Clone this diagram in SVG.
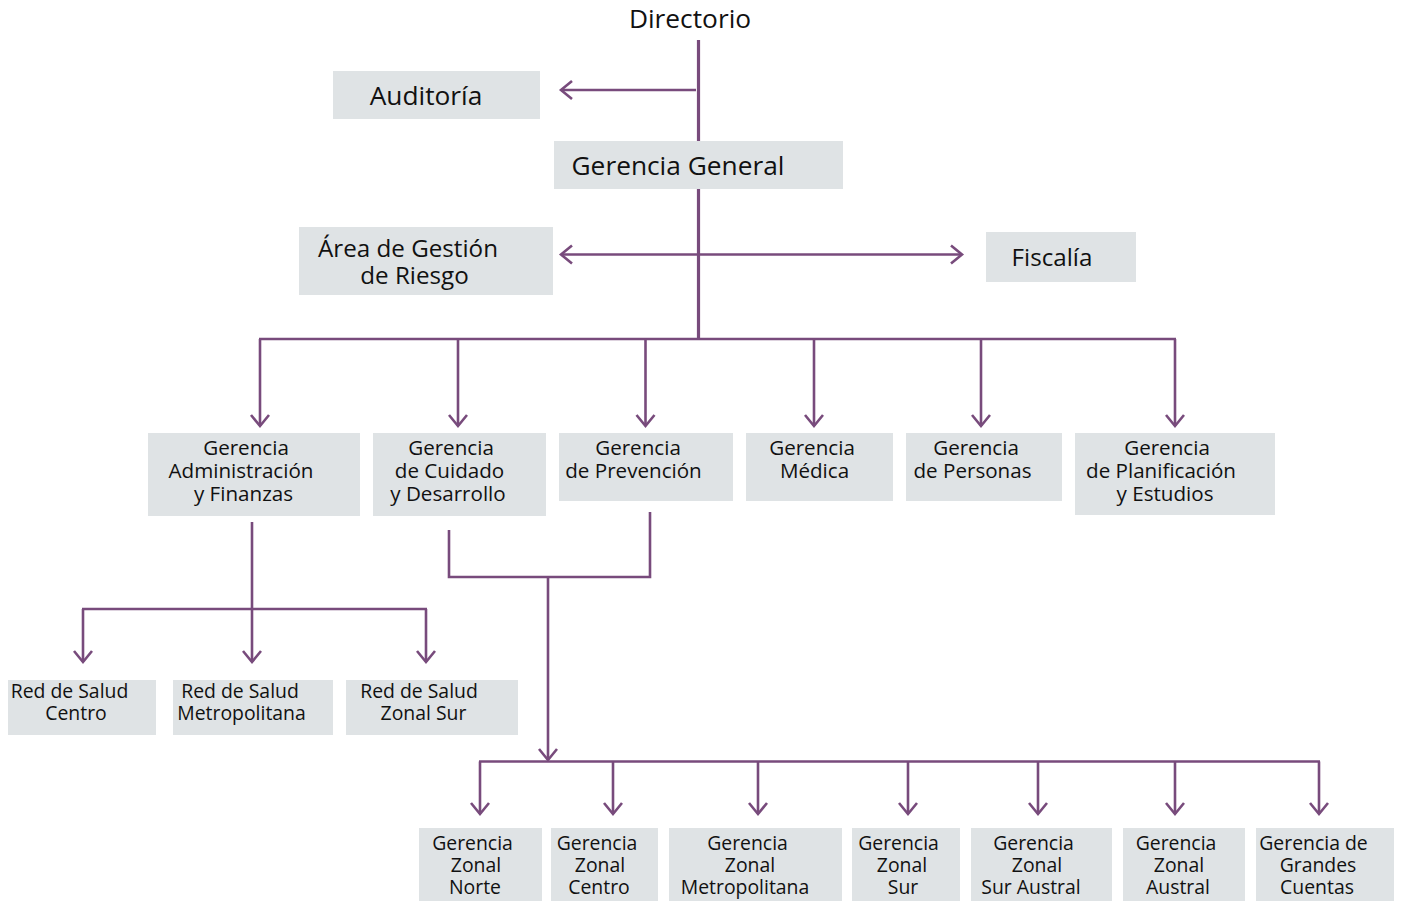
<svg xmlns="http://www.w3.org/2000/svg" width="1401" height="901" viewBox="0 0 1401 901">
<defs>
<style>
.box{fill:#dfe3e5}
.t{font-family:"Open Sans","Noto Sans","Liberation Sans",sans-serif;fill:#111111;text-anchor:middle}
.t26{font-size:26.3px}
.t24{font-size:24.2px}
.t20{font-size:20.6px}
.t19{font-size:19.4px}
.ln{fill:none;stroke:#784b7c;stroke-width:2.6}
.main{fill:none;stroke:#784b7c;stroke-width:3.2}
.ar{marker-end:url(#chev)}
</style>
<marker id="chev" markerUnits="userSpaceOnUse" viewBox="-13 -11 16 22" refX="0" refY="0" markerWidth="16" markerHeight="22" orient="auto-start-reverse">
<path d="M -11 -9 L 0 0 L -11 9" fill="none" stroke="#784b7c" stroke-width="2.6"/>
</marker>
</defs>

<g id="connectors">
<line class="main" x1="698.5" y1="40" x2="698.5" y2="141"/>
<line class="main" x1="698.5" y1="189" x2="698.5" y2="339"/>
<line class="ln ar" x1="696" y1="90" x2="561" y2="90"/>
<line class="ln ar" x1="561" y1="254.5" x2="962" y2="254.5" style="marker-start:url(#chev)"/>
<line class="ln" x1="259" y1="339" x2="1176" y2="339"/>
<line class="ln ar" x1="260" y1="339" x2="260" y2="426"/>
<line class="ln ar" x1="458" y1="339" x2="458" y2="426"/>
<line class="ln ar" x1="645.5" y1="339" x2="645.5" y2="426"/>
<line class="ln ar" x1="814" y1="339" x2="814" y2="426"/>
<line class="ln ar" x1="981" y1="339" x2="981" y2="426"/>
<line class="ln ar" x1="1175" y1="339" x2="1175" y2="426"/>
<line class="ln" x1="252" y1="522" x2="252" y2="609"/>
<line class="ln" x1="82" y1="609" x2="427" y2="609"/>
<line class="ln ar" x1="83" y1="609" x2="83" y2="662"/>
<line class="ln ar" x1="252" y1="609" x2="252" y2="662"/>
<line class="ln ar" x1="426" y1="609" x2="426" y2="662"/>
<polyline class="ln" points="449,530 449,577 650,577 650,512"/>
<line class="ln ar" x1="548" y1="577" x2="548" y2="760"/>
<line class="ln" x1="479" y1="761.5" x2="1320" y2="761.5"/>
<line class="ln ar" x1="480" y1="761.5" x2="480" y2="814"/>
<line class="ln ar" x1="613" y1="761.5" x2="613" y2="814"/>
<line class="ln ar" x1="758" y1="761.5" x2="758" y2="814"/>
<line class="ln ar" x1="908" y1="761.5" x2="908" y2="814"/>
<line class="ln ar" x1="1038" y1="761.5" x2="1038" y2="814"/>
<line class="ln ar" x1="1175" y1="761.5" x2="1175" y2="814"/>
<line class="ln ar" x1="1319" y1="761.5" x2="1319" y2="814"/>
</g>

<g id="directorio">
<text class="t t26" x="690" y="28">Directorio</text>
</g>

<g id="auditoria">
<rect class="box" x="333" y="71" width="207" height="48"/>
<text class="t t26" x="426" y="105">Auditoría</text>
</g>

<g id="gerencia-general">
<rect class="box" x="554" y="141" width="289" height="48"/>
<text class="t t26" x="678" y="175">Gerencia General</text>
</g>

<g id="area-riesgo">
<rect class="box" x="299" y="227" width="254" height="68"/>
<text class="t t24" x="408" y="257">Área de Gestión</text>
<text class="t t24" x="414.5" y="284">de Riesgo</text>
</g>

<g id="fiscalia">
<rect class="box" x="986" y="232" width="150" height="50"/>
<text class="t t24" x="1052" y="266">Fiscalía</text>
</g>

<g id="g-admin">
<rect class="box" x="148" y="433" width="212" height="83"/>
<text class="t t20" x="246" y="455">Gerencia</text>
<text class="t t20" x="241" y="478">Administración</text>
<text class="t t20" x="243.5" y="501">y Finanzas</text>
</g>

<g id="g-cuidado">
<rect class="box" x="373" y="433" width="173" height="83"/>
<text class="t t20" x="451" y="455">Gerencia</text>
<text class="t t20" x="449.5" y="478">de Cuidado</text>
<text class="t t20" x="448" y="501">y Desarrollo</text>
</g>

<g id="g-prevencion">
<rect class="box" x="559" y="433" width="174" height="68"/>
<text class="t t20" x="638" y="455">Gerencia</text>
<text class="t t20" x="633.5" y="478">de Prevención</text>
</g>

<g id="g-medica">
<rect class="box" x="746" y="433" width="147" height="68"/>
<text class="t t20" x="812" y="455">Gerencia</text>
<text class="t t20" x="814.5" y="478">Médica</text>
</g>

<g id="g-personas">
<rect class="box" x="906" y="433" width="156" height="68"/>
<text class="t t20" x="976" y="455">Gerencia</text>
<text class="t t20" x="972.5" y="478">de Personas</text>
</g>

<g id="g-planificacion">
<rect class="box" x="1075" y="433" width="200" height="82"/>
<text class="t t20" x="1167" y="455">Gerencia</text>
<text class="t t20" x="1161" y="478">de Planificación</text>
<text class="t t20" x="1165" y="501">y Estudios</text>
</g>

<g id="red-centro">
<rect class="box" x="8" y="680" width="148" height="55"/>
<text class="t t19" x="69.5" y="698">Red de Salud</text>
<text class="t t19" x="76" y="720">Centro</text>
</g>

<g id="red-metropolitana">
<rect class="box" x="173" y="680" width="160" height="55"/>
<text class="t t19" x="240" y="698">Red de Salud</text>
<text class="t t19" x="241.5" y="720">Metropolitana</text>
</g>

<g id="red-zonal-sur">
<rect class="box" x="346" y="680" width="172" height="55"/>
<text class="t t19" x="419" y="698">Red de Salud</text>
<text class="t t19" x="423.5" y="720">Zonal Sur</text>
</g>

<g id="gz-norte">
<rect class="box" x="419" y="828" width="123" height="73"/>
<text class="t t19" x="472.5" y="850">Gerencia</text>
<text class="t t19" x="476" y="872">Zonal</text>
<text class="t t19" x="475" y="894">Norte</text>
</g>

<g id="gz-centro">
<rect class="box" x="551" y="828" width="107" height="73"/>
<text class="t t19" x="597" y="850">Gerencia</text>
<text class="t t19" x="600" y="872">Zonal</text>
<text class="t t19" x="599" y="894">Centro</text>
</g>

<g id="gz-metropolitana">
<rect class="box" x="669" y="828" width="173" height="73"/>
<text class="t t19" x="747.5" y="850">Gerencia</text>
<text class="t t19" x="750" y="872">Zonal</text>
<text class="t t19" x="745" y="894">Metropolitana</text>
</g>

<g id="gz-sur">
<rect class="box" x="852" y="828" width="108" height="73"/>
<text class="t t19" x="898.5" y="850">Gerencia</text>
<text class="t t19" x="902" y="872">Zonal</text>
<text class="t t19" x="903" y="894">Sur</text>
</g>

<g id="gz-sur-austral">
<rect class="box" x="971" y="828" width="141" height="73"/>
<text class="t t19" x="1033.5" y="850">Gerencia</text>
<text class="t t19" x="1037" y="872">Zonal</text>
<text class="t t19" x="1031" y="894">Sur Austral</text>
</g>

<g id="gz-austral">
<rect class="box" x="1123" y="828" width="122" height="73"/>
<text class="t t19" x="1176" y="850">Gerencia</text>
<text class="t t19" x="1179" y="872">Zonal</text>
<text class="t t19" x="1178" y="894">Austral</text>
</g>

<g id="g-grandes-cuentas">
<rect class="box" x="1256" y="828" width="138" height="73"/>
<text class="t t19" x="1313.5" y="850">Gerencia de</text>
<text class="t t19" x="1318" y="872">Grandes</text>
<text class="t t19" x="1317" y="894">Cuentas</text>
</g>
</svg>
